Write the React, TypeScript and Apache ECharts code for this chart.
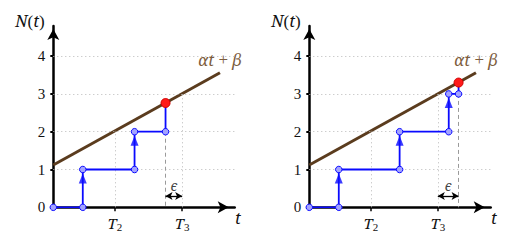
import React, { useEffect, useRef } from 'react';
import * as echarts from 'echarts';

// ---- data ----
const yTickValues = [0, 1, 2, 3, 4];
const gridLevels = [1, 2, 3, 4];
const trendStart = [0, 1.12];
const trendEnd = [4.41, 3.56];
const tSubscripts = ['2', '3'];

const leftSteps = [[0, 0], [0.78, 0], [0.78, 1], [2.15, 1], [2.15, 2], [2.97, 2], [2.97, 2.76]];
const leftArrowHeads = [[0.78, 0.76], [2.15, 1.76]];
const leftTValues = [1.63, 3.41];
const leftEpsilon = [2.97, 3.41];

const rightSteps = [[0, 0], [0.78, 0], [0.78, 1], [2.39, 1], [2.39, 2], [3.69, 2], [3.69, 3], [3.95, 3], [3.95, 3.3]];
const rightArrowHeads = [[0.78, 0.76], [2.39, 1.76], [3.69, 2.76]];
const rightTValues = [1.63, 3.4];
const rightEpsilon = [3.4, 3.95];

const epsilonArrowY = 0.3;
const epsilonLabelY = 0.58;

const X_MAX = 4.8;
const Y_MAX = 4.8;

const SERIF = 'Liberation Serif';
const ITALIC = 'Noto Serif';
const BROWN = '#5b3c1e';
const BROWN_TEXT = '#7d5d3d';
const BLUE = '#0a0aff';

function trendAt(x: number) {
  const slope = (trendEnd[1] - trendStart[1]) / (trendEnd[0] - trendStart[0]);
  return trendStart[1] + slope * x;
}

function panelAxes(idx: number, tValues: number[]) {
  const xAxis = {
    type: 'value',
    gridIndex: idx,
    min: 0,
    max: X_MAX,
    axisLine: {
      show: true,
      symbol: ['none', 'arrow'],
      symbolSize: [9, 11],
      symbolOffset: [0, -6],
      lineStyle: { color: '#000', width: 2.5 },
    },
    axisTick: {
      show: true,
      customValues: tValues,
      length: 4,
      inside: false,
      lineStyle: { color: '#000', width: 1.5 },
    },
    axisLabel: {
      show: true,
      customValues: tValues,
      margin: 7,
      formatter: (v: number) => {
        const i = tValues.findIndex((t) => Math.abs(t - v) < 1e-6);
        return '{t|T}{s|' + (i >= 0 ? tSubscripts[i] : '') + '}';
      },
      rich: {
        t: { fontFamily: ITALIC, fontStyle: 'italic', fontSize: 15, color: '#111' },
        s: { fontFamily: SERIF, fontSize: 11, color: '#111', verticalAlign: 'bottom', padding: [7, 0, 0, 0] },
      },
    },
    splitLine: { show: false },
  };
  const yAxis = {
    type: 'value',
    gridIndex: idx,
    min: 0,
    max: Y_MAX,
    axisLine: {
      show: true,
      symbol: ['none', 'arrow'],
      symbolSize: [9, 11],
      symbolOffset: [0, -3],
      lineStyle: { color: '#000', width: 2.5 },
    },
    axisTick: {
      show: true,
      customValues: yTickValues,
      length: 3,
      lineStyle: { color: '#000', width: 2 },
    },
    axisLabel: {
      show: true,
      customValues: yTickValues,
      margin: 8,
      fontFamily: SERIF,
      fontSize: 15,
      color: '#111',
    },
    splitLine: { show: false },
  };
  return { xAxis, yAxis };
}

function panelSeries(
  idx: number,
  steps: number[][],
  arrows: number[][],
  tValues: number[],
  eps: number[]
) {
  const dotted = { color: '#b8b8b8', width: 1, type: [1, 3] };
  const gridLines: any[] = gridLevels.map((k) => [
    { coord: [0, k], lineStyle: dotted },
    { coord: [X_MAX, k] },
  ]);
  tValues.forEach((t) => {
    gridLines.push([{ coord: [t, 0], lineStyle: dotted }, { coord: [t, trendAt(t)] }]);
  });
  const last = steps[steps.length - 1];
  const prev = steps[steps.length - 2];
  gridLines.push([
    { coord: [last[0], prev[1]], lineStyle: { color: '#9a9a9a', width: 1, type: [4, 3] } },
    { coord: [last[0], 0] },
  ]);

  const stepData = steps.map((p, i) =>
    i === steps.length - 1
      ? {
          value: p,
          symbolSize: 9,
          itemStyle: { color: '#ff1a1a', borderColor: '#d00000', borderWidth: 1 },
        }
      : { value: p }
  );

  return [
    {
      type: 'line',
      xAxisIndex: idx,
      yAxisIndex: idx,
      data: [],
      silent: true,
      markLine: {
        silent: true,
        symbol: ['none', 'none'],
        label: { show: false },
        animation: false,
        data: gridLines,
      },
      z: 1,
    },
    {
      type: 'line',
      xAxisIndex: idx,
      yAxisIndex: idx,
      data: [],
      silent: true,
      markLine: {
        silent: true,
        symbol: ['arrow', 'arrow'],
        symbolSize: [6, 7],
        label: { show: false },
        lineStyle: { color: '#000', width: 1.3, type: 'solid' },
        animation: false,
        data: [[{ coord: [eps[0], epsilonArrowY] }, { coord: [eps[1], epsilonArrowY] }]],
      },
      z: 3,
    },
    {
      type: 'scatter',
      xAxisIndex: idx,
      yAxisIndex: idx,
      data: [[(eps[0] + eps[1]) / 2, epsilonLabelY]],
      symbolSize: 1,
      itemStyle: { color: 'rgba(0,0,0,0)' },
      label: {
        show: true,
        position: 'inside',
        formatter: 'ϵ',
        fontFamily: ITALIC,
        fontStyle: 'italic',
        fontSize: 14,
        color: '#111',
      },
      z: 3,
    },
    {
      type: 'line',
      xAxisIndex: idx,
      yAxisIndex: idx,
      data: [
        { value: trendStart },
        {
          value: trendEnd,
          label: {
            show: true,
            position: 'top',
            distance: 4,
            formatter: '{i|αt} + {i|β}',
            rich: {
              i: { fontFamily: ITALIC, fontStyle: 'italic', fontSize: 16, color: BROWN_TEXT },
            },
            fontFamily: SERIF,
            fontSize: 17,
            color: BROWN_TEXT,
          },
        },
      ],
      symbol: 'circle',
      symbolSize: 1,
      showSymbol: true,
      itemStyle: { color: 'rgba(0,0,0,0)', borderWidth: 0 },
      lineStyle: { color: BROWN, width: 3 },
      z: 4,
    },
    {
      type: 'line',
      xAxisIndex: idx,
      yAxisIndex: idx,
      data: stepData,
      symbol: 'circle',
      symbolSize: 6.5,
      showSymbol: true,
      lineStyle: { color: BLUE, width: 1.8 },
      itemStyle: { color: '#a3a3ff', borderColor: BLUE, borderWidth: 1 },
      z: 5,
    },
    {
      type: 'scatter',
      xAxisIndex: idx,
      yAxisIndex: idx,
      data: arrows,
      symbol: 'triangle',
      symbolSize: [8, 10],
      itemStyle: { color: BLUE },
      z: 6,
    },
  ];
}

export default function App() {
  const ref = useRef<HTMLDivElement>(null);
  useEffect(() => {
    if (!ref.current) return;
    const chart = echarts.init(ref.current, null, { renderer: 'svg' });
    const left = panelAxes(0, leftTValues);
    const right = panelAxes(1, rightTValues);
    const plotSize = 181.4;
    const option: any = {
      animation: false,
      backgroundColor: '#fff',
      grid: [
        { left: 53.3, top: 207.3 - plotSize, width: plotSize, height: plotSize, containLabel: false },
        { left: 309.3, top: 207.3 - plotSize, width: plotSize, height: plotSize, containLabel: false },
      ],
      xAxis: [left.xAxis, right.xAxis],
      yAxis: [left.yAxis, right.yAxis],
      series: [
        ...panelSeries(0, leftSteps, leftArrowHeads, leftTValues, leftEpsilon),
        ...panelSeries(1, rightSteps, rightArrowHeads, rightTValues, rightEpsilon),
      ],
      graphic: [0, 256].flatMap((dx) => [
        {
          type: 'text',
          x: 30 + dx,
          y: 21,
          style: {
            text: '{i|N}({i|t})',
            rich: { i: { fontFamily: ITALIC, fontStyle: 'italic', fontSize: 16, fill: '#111' } },
            fontFamily: SERIF,
            fontSize: 17,
            fill: '#111',
            align: 'center',
            verticalAlign: 'middle',
          },
        },
        {
          type: 'text',
          x: 238 + dx,
          y: 218,
          style: {
            text: 't',
            fontFamily: ITALIC,
            fontStyle: 'italic',
            fontSize: 16,
            fill: '#111',
            align: 'center',
            verticalAlign: 'middle',
          },
        },
      ]),
    };
    chart.setOption(option);
    return () => chart.dispose();
  }, []);
  return (
    <div
      ref={ref}
      style={{ position: 'fixed', left: 0, top: 0, width: 511, height: 245 }}
    />
  );
}
